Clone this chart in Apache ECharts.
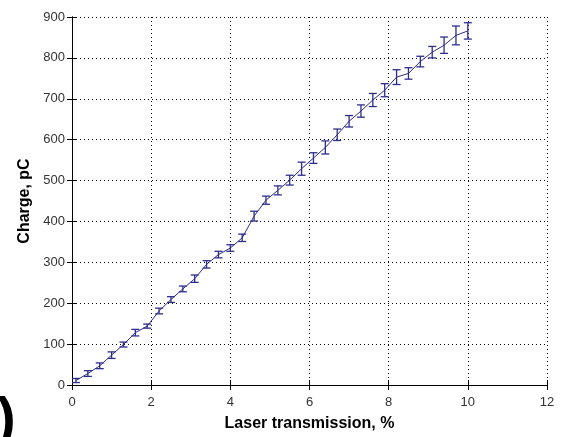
<!DOCTYPE html>
<html>
<head>
<meta charset="utf-8">
<script src="https://cdn.jsdelivr.net/npm/echarts@6/dist/echarts.min.js"></script>
<style>
  html, body { margin: 0; padding: 0; background: #fff; }
  #chart { width: 566px; height: 437px; }
</style>
</head>
<body>
<div id="chart"></div>
<script>
// Laser transmission (%) for each measurement
const transmission = [0.1, 0.4, 0.7, 1.0, 1.3, 1.6, 1.9, 2.2, 2.5, 2.8, 3.1, 3.4, 3.7, 4.0, 4.3, 4.6, 4.9,
  5.2, 5.5, 5.8, 6.1, 6.4, 6.7, 7.0, 7.3, 7.6, 7.9, 8.2, 8.5, 8.8, 9.1, 9.4, 9.7, 10.0];
// Mean charge (pC)
const charge = [11, 28, 47, 73, 99, 128, 144, 181, 209, 235, 260, 295, 319, 335, 360, 413, 452,
  476, 501, 529, 555, 581, 612, 645, 670, 697, 721, 753, 762, 791, 814, 831, 855, 866];
// Half-height of each error bar (pC)
const chargeErr = [5, 7, 7, 8, 6, 8, 5, 7, 7, 7, 9, 9, 8, 8, 9, 12, 10,
  11, 12, 16, 13, 16, 14, 14, 15, 16, 16, 18, 14, 13, 14, 20, 23, 20];

const xTicks = { min: 0, max: 12, interval: 2 };
const yTicks = { min: 0, max: 900, interval: 100 };

const lineColor = '#2d2d8c';
const font = 'Liberation Sans, Arial, sans-serif';

const lineData = transmission.map((x, i) => [x, charge[i]]);
const errData = transmission.map((x, i) => [x, charge[i] - chargeErr[i], charge[i] + chargeErr[i]]);

const chart = echarts.init(document.getElementById('chart'), null, { renderer: 'canvas' });

const axisLine = { show: true, lineStyle: { color: '#000', width: 1 } };
const axisTick = { show: true, inside: true, length: 5, lineStyle: { color: '#000' } };
const splitLine = { show: true, lineStyle: { color: '#000', type: [1, 3], width: 1 } };
const nameStyle = { fontFamily: font, fontSize: 16, fontWeight: 'bold', color: '#000' };
const tickStyle = { fontFamily: font, fontSize: 13, color: '#333' };

chart.setOption({
  backgroundColor: '#fff',
  animation: false,
  grid: { left: 72, right: 19, top: 17, bottom: 49, containLabel: false },
  xAxis: [
    {
      type: 'value', min: xTicks.min, max: xTicks.max, interval: xTicks.interval,
      name: 'Laser transmission, %', nameLocation: 'middle', nameGap: 31,
      nameTextStyle: nameStyle,
      axisLine, axisTick, splitLine,
      axisLabel: Object.assign({ margin: 11 }, tickStyle)
    },
    {
      type: 'value', position: 'top', min: xTicks.min, max: xTicks.max, interval: xTicks.interval,
      axisLine, axisTick, splitLine: { show: false }, axisLabel: { show: false }
    }
  ],
  yAxis: [
    {
      type: 'value', min: yTicks.min, max: yTicks.max, interval: yTicks.interval,
      name: 'Charge, pC', nameLocation: 'middle', nameGap: 33, nameRotate: 90,
      nameTextStyle: nameStyle,
      axisLine, axisTick, splitLine,
      axisLabel: Object.assign({ margin: 7 }, tickStyle)
    },
    {
      type: 'value', position: 'right', min: yTicks.min, max: yTicks.max, interval: yTicks.interval,
      axisLine, axisTick, splitLine: { show: false }, axisLabel: { show: false }
    }
  ],
  graphic: [
    {
      type: 'text', left: -3, top: 393,
      style: { text: ')', fontFamily: font, fontSize: 56, fontWeight: 'bold', fill: '#000' }
    }
  ],
  series: [
    {
      type: 'line', data: lineData, showSymbol: false,
      lineStyle: { color: lineColor, width: 1 }, z: 3
    },
    {
      type: 'custom', data: errData, z: 4,
      renderItem: function (params, api) {
        const x = api.value(0);
        const lo = api.coord([x, api.value(1)]);
        const hi = api.coord([x, api.value(2)]);
        const cap = 4;
        const style = { stroke: lineColor, lineWidth: 1.3, fill: null };
        return {
          type: 'group',
          children: [
            { type: 'line', shape: { x1: lo[0], y1: lo[1], x2: hi[0], y2: hi[1] }, style },
            { type: 'line', shape: { x1: lo[0] - cap, y1: lo[1], x2: lo[0] + cap, y2: lo[1] }, style },
            { type: 'line', shape: { x1: hi[0] - cap, y1: hi[1], x2: hi[0] + cap, y2: hi[1] }, style }
          ]
        };
      }
    }
  ]
});
</script>
</body>
</html>
